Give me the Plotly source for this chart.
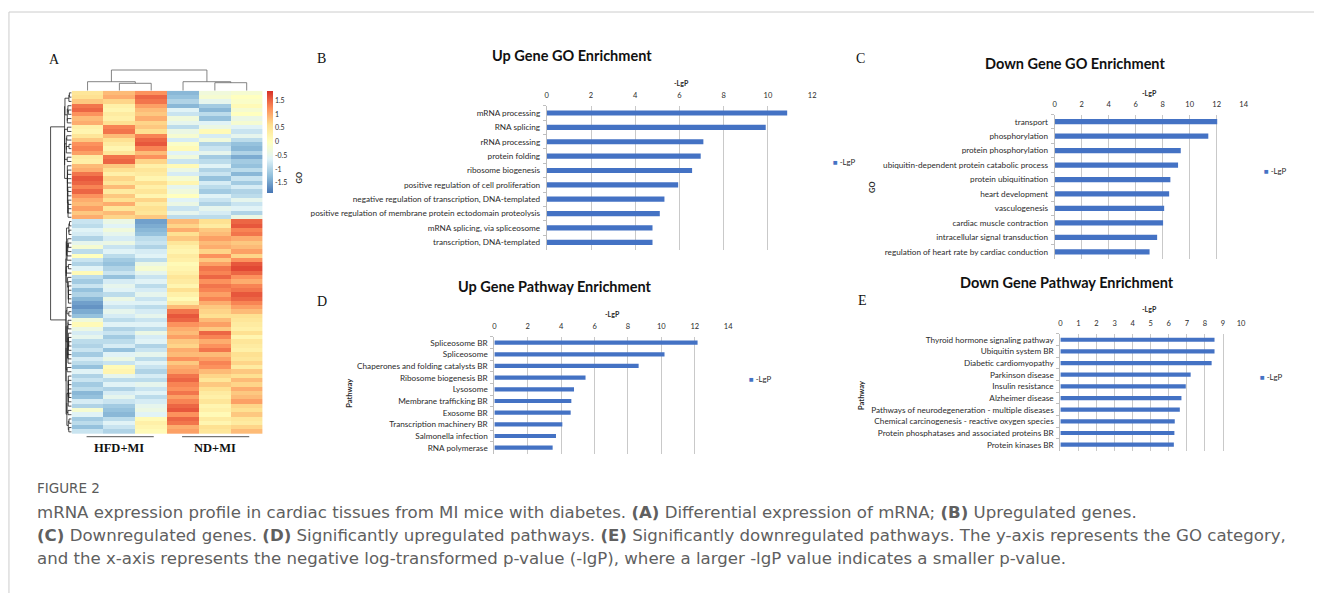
import numpy as np
import plotly.graph_objects as go

W, H = 1319, 593

# ---------------- data ----------------
samples = ["HFD1", "HFD2", "HFD3", "ND1", "ND2", "ND3"]
groups = ["HFD+MI", "ND+MI"]

hfd1 = [0.5, 0.6, 0.8, 1.4, 1.5, 1.2, 0.9, 1.0, 0.3, 0.2, 0.5, 0.8, 1.2, 1.3, 1.1, 0.4, 0.3, 0.9, 1.0, 1.4,
        1.6, 1.5, 1.3, 1.5, 1.2, 1.0, 0.9, 1.1, 0.8, 1.0,
        -0.8, -0.9, -0.6, -0.7, -1.0, -0.5, -0.2, -0.9, 0.0, -0.8, -1.0, -0.6, 0.1, -0.9, -1.1, -0.8, -1.2, -1.0, -1.3, -1.5,
        -1.6, -1.4, -1.2, -0.3, 0.1, -0.4, -0.7, -0.5, -0.9, -1.0, -0.8, -1.1, -0.7, -0.9, -1.2, -0.6, -1.0, -0.8, -1.1, -0.9,
        -1.3, -1.2, -0.7, -1.0, -0.2, -0.6, -1.1, -0.9, -1.2, -0.8]
hfd2 = [0.9, 1.0, 0.7, 0.3, 0.2, 0.4, 0.3, 0.6, 1.3, 1.4, 0.9, 0.6, 0.4, 0.2, 0.5, 1.4, 1.5, 0.8, 0.6, 0.3,
        0.7, 0.5, 0.9, 0.4, 0.8, 0.6, 1.0, 0.5, 0.9, 0.7,
        -0.4, -0.6, -0.3, -0.5, -0.7, -0.4, -0.8, -0.6, -0.9, -1.1, -1.2, -1.0, -0.8, -1.2, -0.7, -0.5, -0.6, -0.9, -0.4, -0.6,
        -0.8, -0.5, -0.7, -0.9, -0.6, -1.0, -0.8, -1.1, -0.9, -0.7, -1.2, -0.6, -0.4, -0.8, 0.1, 0.2, -0.5, -0.9, -0.6, -1.0,
        -0.7, -0.5, -0.8, -1.1, -1.2, -1.3, -0.9, -0.6, -0.8, -1.0]
hfd3 = [1.2, 1.5, 1.4, 1.1, 0.9, 0.8, 1.0, 0.7, 0.8, 0.6, 1.3, 1.5, 1.6, 1.3, 0.9, 1.2, 0.7, 0.3, 0.5, 0.4,
        0.2, 0.6, 0.3, 0.5, 0.2, 0.7, 0.4, 0.6, 0.5, 0.8,
        -1.5, -1.4, -1.3, -1.2, -0.9, -0.8, -1.0, -0.7, -0.6, -0.9, -0.4, -0.2, -0.5, -0.8, -0.6, -0.9, -0.7, -0.5, -0.8, -0.6,
        -0.9, -0.7, -0.5, -0.8, -0.6, -0.9, -0.4, -0.7, -0.6, -1.0, -0.8, -0.5, -0.9, -0.6, -0.8, -1.0, -0.7, -0.9, -0.5, -0.8,
        -0.6, -0.9, -0.7, -0.5, -0.4, -0.6, 0.1, 0.3, 0.2, 0.1]
nd1 = [-1.3, -1.2, -1.0, -1.3, -0.6, -0.8, -0.3, -0.5, -0.9, -0.4, -0.2, -0.7, -0.1, 0.1, -0.6, -0.3, -0.8, 0.1, -0.4, -0.7,
       -0.2, 0.2, -0.5, -0.3, 0.0, -0.6, -0.4, -0.8, -0.5, -0.9,
       0.9, 0.7, 1.0, 0.6, 0.8, 0.5, 0.3, 0.2, 0.4, 0.3, 0.1, 0.2, 0.3, 0.5, 0.4, 0.2, 0.6, 0.3, 0.1, 0.4,
       0.9, 1.4, 1.6, 1.5, 1.2, 1.0, 0.9, 1.1, 0.8, 0.7, 1.0, 0.9, 1.2, 0.8, 1.0, 1.1, 1.4, 1.5, 1.3, 1.2,
       1.4, 1.1, 1.3, 1.5, 1.6, 1.2, 1.5, 1.4, 1.0, 1.1]
nd2 = [-0.3, -0.2, -0.5, -1.1, -1.3, -0.9, -1.2, -0.6, -0.4, 0.1, -0.7, -0.3, -1.0, -0.8, -0.5, -1.1, -0.9, -0.6, -1.0, -0.8,
       -1.2, -0.7, -0.9, -1.1, -0.6, -0.8, -1.0, -0.5, -0.7, -0.9,
       0.6, 0.4, 0.8, 0.9, 1.1, 0.9, 1.0, 0.7, 1.2, 0.8, 1.1, 1.4, 1.3, 1.5, 1.2, 1.4, 1.3, 1.1, 1.3, 1.0,
       0.8, 0.7, 0.6, 0.9, 1.1, 0.8, 1.5, 1.3, 1.0, 1.2, 1.4, 0.9, 1.1, 1.3, 1.2, 0.9, 0.7, 0.5, 0.8, 0.6,
       0.4, 0.3, 0.5, 0.2, 0.3, 0.1, 0.4, 0.2, 0.6, 0.5]
nd3 = [-0.2, 0.0, -0.1, 0.1, -0.2, 0.0, -0.4, -0.2, -0.6, -0.8, -0.5, -0.9, -1.2, -1.3, -1.0, -1.4, -1.1, -1.2, -0.9, -1.3,
       -0.8, -1.1, -0.7, -1.0, -0.9, -0.5, -0.8, -0.6, -1.0, -0.4,
       1.5, 1.6, 1.3, 1.4, 1.0, 0.8, 0.9, 1.1, 0.7, 1.2, 1.6, 1.7, 1.5, 1.2, 1.0, 1.3, 1.4, 1.6, 1.5, 1.3,
       1.1, 0.9, 0.6, 0.5, 0.4, 0.3, 0.6, 0.2, 0.5, 0.4, 0.3, 0.6, 0.5, 0.7, 0.4, 0.8, 0.6, 0.9, 0.7, 1.0,
       0.8, 0.9, 1.1, 0.7, 0.6, 0.8, 0.5, 0.4, 0.7, 0.9]

# column clustering (child a, child b, merge height), scipy-linkage style
col_links = [[1, 2, 7.4], [0, 6, 9.0], [4, 5, 8.0], [3, 8, 9.0], [7, 9, 20.7]]

cbar_ticks = [1.5, 1, 0.5, 0, -0.5, -1, -1.5]
cbar_labels = ["1.5", "1", "0.5", "0", "-0.5", "-1", "-1.5"]

up_go_terms = ["mRNA processing", "RNA splicing", "rRNA processing", "protein folding",
               "ribosome biogenesis", "positive regulation of cell proliferation",
               "negative regulation of transcription, DNA-templated",
               "positive regulation of membrane protein ectodomain proteolysis",
               "mRNA splicing, via spliceosome", "transcription, DNA-templated"]
up_go_lgp = [10.87, 9.90, 7.08, 6.96, 6.57, 5.94, 5.32, 5.11, 4.78, 4.78]

down_go_terms = ["transport", "phosphorylation", "protein phosphorylation",
                 "ubiquitin-dependent protein catabolic process", "protein ubiquitination",
                 "heart development", "vasculogenesis", "cardiac muscle contraction",
                 "intracellular signal transduction", "regulation of heart rate by cardiac conduction"]
down_go_lgp = [12.04, 11.38, 9.34, 9.14, 8.57, 8.48, 8.11, 8.03, 7.59, 7.03]

up_pw_terms = ["Spliceosome BR", "Spliceosome", "Chaperones and folding catalysts BR",
               "Ribosome biogenesis BR", "Lysosome", "Membrane trafficking BR", "Exosome BR",
               "Transcription machinery BR", "Salmonella infection", "RNA polymerase"]
up_pw_lgp = [12.17, 10.19, 8.64, 5.46, 4.77, 4.61, 4.57, 4.07, 3.69, 3.49]

down_pw_terms = ["Thyroid hormone signaling pathway", "Ubiquitin system BR", "Diabetic cardiomyopathy",
                 "Parkinson disease", "Insulin resistance", "Alzheimer disease",
                 "Pathways of neurodegeneration - multiple diseases",
                 "Chemical carcinogenesis - reactive oxygen species",
                 "Protein phosphatases and associated proteins BR", "Protein kinases BR"]
down_pw_lgp = [8.53, 8.53, 8.37, 7.21, 6.94, 6.70, 6.61, 6.33, 6.31, 6.28]

# ---------------- helpers ----------------
def fx(px):
    return px / W


def fy(py):
    return 1 - py / H


BAR = "#4472c4"
TXT = "#2b2b2b"
GRID = "#c9c9c9"
SANS = "Lato, 'Open Sans', sans-serif"
SERIF = "'Liberation Serif', 'Times New Roman', serif"

fig = go.Figure()

# ---------------- heatmap ----------------
X = np.array([hfd1, hfd2, hfd3, nd1, nd2, nd3]).T
nrow = X.shape[0]
pal = ["#4575B4", "#91BFDB", "#E0F3F8", "#FFFFBF", "#FEE090", "#FC8D59", "#D73027"]
cscale = [[i / (len(pal) - 1), c] for i, c in enumerate(pal)]

fig.add_trace(go.Heatmap(
    z=X, x=list(range(6)), y=list(range(nrow)), xaxis="x", yaxis="y",
    colorscale=cscale, zmin=-1.86, zmax=1.86, hoverinfo="skip",
    colorbar=dict(x=fx(266), xanchor="left", y=fy(90.7), yanchor="top",
                  len=(192.7 - 90.7) / H, lenmode="fraction", thickness=6,
                  thicknessmode="pixels", outlinewidth=0, xpad=0, ypad=0,
                  tickvals=cbar_ticks, ticktext=cbar_labels, ticks="",
                  tickfont=dict(size=7, color=TXT, family=SANS)),
))

# top (column) dendrogram from linkage
pos = {i: float(i) for i in range(6)}
hts = {i: 0.0 for i in range(6)}
cx, cy = [], []
for n, (a, b, h) in enumerate(col_links):
    node = 6 + n
    cx += [pos[a], pos[a], pos[b], pos[b], None]
    cy += [hts[a], h, h, hts[b], None]
    pos[node] = (pos[a] + pos[b]) / 2
    hts[node] = h
top_h = max(l[2] for l in col_links)
fig.add_trace(go.Scatter(x=cx, y=cy, mode="lines", xaxis="x2", yaxis="y2",
                         line=dict(color="#666666", width=0.8), hoverinfo="skip", showlegend=False))

# row dendrogram: order-preserving agglomerative clustering of the rows
clusters = [dict(idx=[i], pos=float(i), h=0.0) for i in range(nrow)]
rx, ry = [], []
while len(clusters) > 1:
    d = [np.linalg.norm(X[a["idx"]].mean(0) - X[b["idx"]].mean(0))
         for a, b in zip(clusters[:-1], clusters[1:])]
    k = int(np.argmin(d))
    a, b = clusters[k], clusters[k + 1]
    h = max(d[k], a["h"], b["h"])
    rx += [a["h"], h, h, b["h"], None]
    ry += [a["pos"], a["pos"], b["pos"], b["pos"], None]
    clusters[k:k + 2] = [dict(idx=a["idx"] + b["idx"], pos=(a["pos"] + b["pos"]) / 2, h=h)]
root_h = clusters[0]["h"]
fig.add_trace(go.Scatter(x=rx, y=ry, mode="lines", xaxis="x3", yaxis="y3",
                         line=dict(color="#222222", width=0.8), hoverinfo="skip", showlegend=False))

hm_l, hm_r, hm_t, hm_b = 70, 262, 90.7, 434
noax = dict(showticklabels=False, showgrid=False, zeroline=False, ticks="", showline=False)
layout = dict(
    xaxis=dict(domain=[fx(hm_l), fx(hm_r)], range=[-0.5, 5.5], anchor="y", **noax),
    yaxis=dict(domain=[fy(hm_b), fy(hm_t)], range=[nrow - 0.5, -0.5], anchor="x", **noax),
    xaxis2=dict(domain=[fx(hm_l), fx(hm_r)], range=[-0.5, 5.5], anchor="y2", **noax),
    yaxis2=dict(domain=[fy(hm_t), fy(hm_t - top_h - 1)], range=[0, top_h + 1], anchor="x2", **noax),
    xaxis3=dict(domain=[fx(48), fx(hm_l)], range=[root_h * 1.04, 0], anchor="y3", **noax),
    yaxis3=dict(domain=[fy(hm_b), fy(hm_t)], range=[nrow - 0.5, -0.5], anchor="x3", **noax),
)

shapes = []
annotations = []

# group brackets and labels under heatmap
for gi, g in enumerate(groups):
    c0, c1 = gi * 3, gi * 3 + 2
    shapes.append(dict(type="line", xref="x", yref="paper", x0=c0 - 0.03, x1=c1 + 0.08,
                       y0=fy(436.7), y1=fy(436.7), line=dict(color="#555555", width=1)))
    annotations.append(dict(xref="x", yref="paper", x=(c0 + c1) / 2, y=fy(448.5), text="<b>%s</b>" % g,
                            showarrow=False, xanchor="center", yanchor="middle",
                            font=dict(family=SERIF, size=12.5, color="#111111")))

# ---------------- bar panels ----------------
panels = [
    dict(terms=up_go_terms, vals=up_go_lgp, xmax=12, box=(547.7, 814.5, 105.8, 249.5),
         title="Up Gene GO Enrichment", tpos=(573, 55), letter="B", lpos=(321, 58.5),
         ylab="GO", ypos=(299, 177), lgp=(682.7, 82.7), leg=(836, 162.3)),
    dict(terms=down_go_terms, vals=down_go_lgp, xmax=14, box=(1058.3, 1248.3, 114.5, 259.0),
         title="Down Gene GO Enrichment", tpos=(1078.5, 63.5), letter="C", lpos=(863.5, 58.5),
         ylab="GO", ypos=(875, 186.7), lgp=(1153.3, 92.7), leg=(1270, 170.7)),
    dict(terms=up_pw_terms, vals=up_pw_lgp, xmax=14, box=(495, 730, 336.8, 453.5),
         title="Up Gene Pathway Enrichment", tpos=(555.5, 286), letter="D", lpos=(322, 301.7),
         ylab="Pathway", ypos=(349.3, 393.3), lgp=(613.3, 314.3), leg=(751.7, 379)),
    dict(terms=down_pw_terms, vals=down_pw_lgp, xmax=10, box=(1064, 1245.7, 333.9, 450.5),
         title="Down Gene Pathway Enrichment", tpos=(1070.5, 282.5), letter="E", lpos=(865, 300),
         ylab="Pathway", ypos=(863.5, 395), lgp=(1153.3, 309.3), leg=(1265.7, 376.7)),
]

for i, p in enumerate(panels):
    n = 4 + i
    xa, ya = "x%d" % n, "y%d" % n
    x0, x1, y0, y1 = p["box"]
    fig.add_trace(go.Bar(x=p["vals"], y=p["terms"], orientation="h", xaxis=xa, yaxis=ya,
                         width=0.36, marker=dict(color=BAR, line=dict(width=0)),
                         name="-LgP", showlegend=False, hoverinfo="skip"))
    layout["xaxis%d" % n] = dict(
        domain=[fx(x0), fx(x1)], range=[0, p["xmax"]], dtick=1 if p["xmax"] == 10 else 2, tick0=0,
        side="top", anchor=ya, showgrid=True, gridcolor=GRID, gridwidth=1, zeroline=False,
        showline=False, ticks="outside", ticklen=4, tickcolor="rgba(0,0,0,0)",
        tickfont=dict(size=7.5, color=TXT, family=SANS))
    layout["yaxis%d" % n] = dict(
        domain=[fy(y1), fy(y0)], type="category", categoryorder="array", categoryarray=p["terms"],
        autorange="reversed", anchor=xa, tickson="boundaries", ticks="outside", ticklen=3,
        tickcolor="#bfbfbf", showline=True, linecolor="#bfbfbf", linewidth=1, showgrid=False,
        zeroline=False, ticklabelstandoff=4, tickfont=dict(size=8.2, color=TXT, family=SANS))
    annotations += [
        dict(x=fx(p["tpos"][0]), y=fy(p["tpos"][1]), text="<b>%s</b>" % p["title"],
             font=dict(family=SANS, size=14.5, color="#111111")),
        dict(x=fx(p["lpos"][0]), y=fy(p["lpos"][1]), text=p["letter"],
             font=dict(family=SERIF, size=14, color="#111111")),
        dict(x=fx(p["ypos"][0]), y=fy(p["ypos"][1]), text="<b>%s</b>" % p["ylab"], textangle=-90,
             font=dict(family=SANS, size=7.5, color=TXT)),
        dict(x=fx(p["lgp"][0]), y=fy(p["lgp"][1]), text="<b>-LgP</b>",
             font=dict(family=SANS, size=7, color=TXT)),
        dict(x=fx(p["leg"][0] - 3), y=fy(p["leg"][1]), xanchor="left",
             text='<span style="color:%s">■</span> -LgP' % BAR,
             font=dict(family=SANS, size=7.8, color=TXT)),
    ]

annotations.append(dict(x=fx(52.7), y=fy(59), text="A", font=dict(family=SERIF, size=14, color="#111111")))

# ---------------- caption ----------------
cap_font = "'DejaVu Sans', sans-serif"
annotations.append(dict(x=fx(33), y=fy(488), xanchor="left", text="FIGURE 2",
                        font=dict(family=cap_font, size=13.5, color="#5a5a5a")))
cap_lines = [
    "mRNA expression profile in cardiac tissues from MI mice with diabetes. <b>(A)</b> Differential expression of mRNA; <b>(B)</b> Upregulated genes.",
    "<b>(C)</b> Downregulated genes. <b>(D)</b> Significantly upregulated pathways. <b>(E)</b> Significantly downregulated pathways. The y-axis represents the GO category,",
    "and the x-axis represents the negative log-transformed p-value (-lgP), where a larger -lgP value indicates a smaller p-value.",
]
for j, line in enumerate(cap_lines):
    annotations.append(dict(x=fx(33), y=fy(512.5 + 23 * j), xanchor="left", text=line,
                            font=dict(family=cap_font, size=16.6, color="#606060")))

for a in annotations:
    a.setdefault("xref", "paper")
    a.setdefault("yref", "paper")
    a.setdefault("showarrow", False)
    a.setdefault("xanchor", "center")
    a.setdefault("yanchor", "middle")

# frame lines
shapes.append(dict(type="line", xref="paper", yref="paper", x0=fx(7), x1=1, y0=fy(12), y1=fy(12),
                   line=dict(color="#cccccc", width=1)))
shapes.append(dict(type="line", xref="paper", yref="paper", x0=fx(7), x1=fx(7), y0=fy(12), y1=0,
                   line=dict(color="#cccccc", width=1)))

fig.update_layout(
    width=W, height=H, margin=dict(l=0, r=0, t=0, b=0, pad=0),
    paper_bgcolor="white", plot_bgcolor="rgba(0,0,0,0)", showlegend=False,
    font=dict(family=SANS, color=TXT), shapes=shapes, annotations=annotations, **layout)

fig.write_html("out.html", config={"displayModeBar": False},
               post_script="document.body.style.margin='0';document.body.style.overflow='hidden';")
